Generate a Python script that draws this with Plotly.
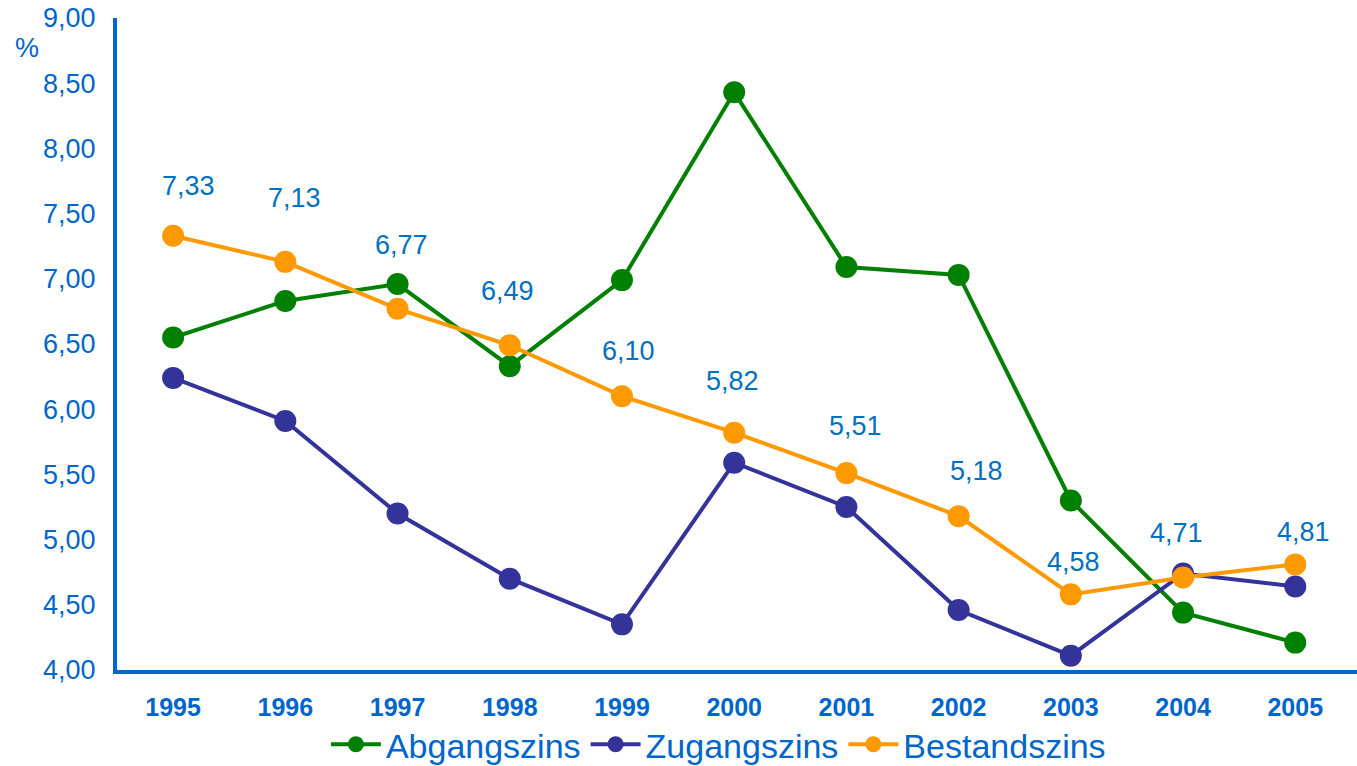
import plotly.graph_objects as go

years = ["1995", "1996", "1997", "1998", "1999", "2000", "2001", "2002", "2003", "2004", "2005"]
abgangszins = [6.55, 6.83, 6.96, 6.33, 6.99, 8.43, 7.09, 7.03, 5.30, 4.44, 4.21]
zugangszins = [6.24, 5.91, 5.20, 4.70, 4.35, 5.59, 5.25, 4.46, 4.11, 4.74, 4.64]
bestandszins = [7.33, 7.13, 6.77, 6.49, 6.10, 5.82, 5.51, 5.18, 4.58, 4.71, 4.81]
label_texts = ["7,33", "7,13", "6,77", "6,49", "6,10", "5,82", "5,51", "5,18", "4,58", "4,71", "4,81"]

# label placement offsets (pixels) relative to the Bestandszins points
label_yshift = [50, 64, 64, 54, 45, 52, 47, 45, 32, 44, 32]
label_xshift = [15, 9, 4, -2, 7, -2, 9, 18, 3, -7, 8]

TEXT = "#0066CC"
FONT = "Liberation Sans, Arial, sans-serif"

fig = go.Figure()
series = [
    ("Abgangszins", abgangszins, "#008000"),
    ("Zugangszins", zugangszins, "#333399"),
    ("Bestandszins", bestandszins, "#FF9900"),
]
for name, vals, col in series:
    fig.add_trace(go.Scatter(
        x=years, y=vals, name=name, mode="lines+markers",
        line=dict(color=col, width=4),
        marker=dict(color=col, size=22),
        cliponaxis=False,
    ))

for i, (v, t, ys, xs) in enumerate(zip(bestandszins, label_texts, label_yshift, label_xshift)):
    fig.add_annotation(x=i, y=v, xref="x", yref="y", text=t, showarrow=False,
                       yshift=ys, xshift=xs,
                       font=dict(family=FONT, size=27, color="#0070C0"))

fig.add_annotation(xref="paper", yref="paper", x=-0.0726, y=0.954, text="%",
                   xanchor="center", yanchor="middle",
                   showarrow=False, font=dict(family=FONT, size=27, color=TEXT))

fig.update_layout(
    width=1357, height=766,
    margin=dict(l=117, r=0, t=18, b=96, autoexpand=False),
    paper_bgcolor="white", plot_bgcolor="white",
    separators=",.",
    font=dict(family=FONT, color=TEXT),
    showlegend=True,
    legend=dict(orientation="h", x=0.485, xanchor="center", xref="paper",
                y=-0.1145, yanchor="middle", yref="paper",
                font=dict(family=FONT, size=34, color=TEXT),
                itemwidth=50, tracegroupgap=0, bgcolor="rgba(0,0,0,0)"),
    xaxis=dict(type="category", range=[-0.5, 10.55], showgrid=False, zeroline=False,
               showline=True, linecolor=TEXT, linewidth=4, ticks="", automargin=False,
               ticklabelstandoff=12,
               tickfont=dict(family=FONT, size=25, color=TEXT, weight="bold")),
    yaxis=dict(range=[4, 9], dtick=0.5, tick0=4, tickformat=".2f", showgrid=False,
               zeroline=False, showline=True, linecolor=TEXT, linewidth=4, ticks="",
               automargin=False, ticklabelstandoff=12,
               tickfont=dict(family=FONT, size=27, color=TEXT)),
)

fig.write_html("out.html", config={"displayModeBar": False},
               post_script="document.body.style.margin='0';document.body.style.overflow='hidden';")
